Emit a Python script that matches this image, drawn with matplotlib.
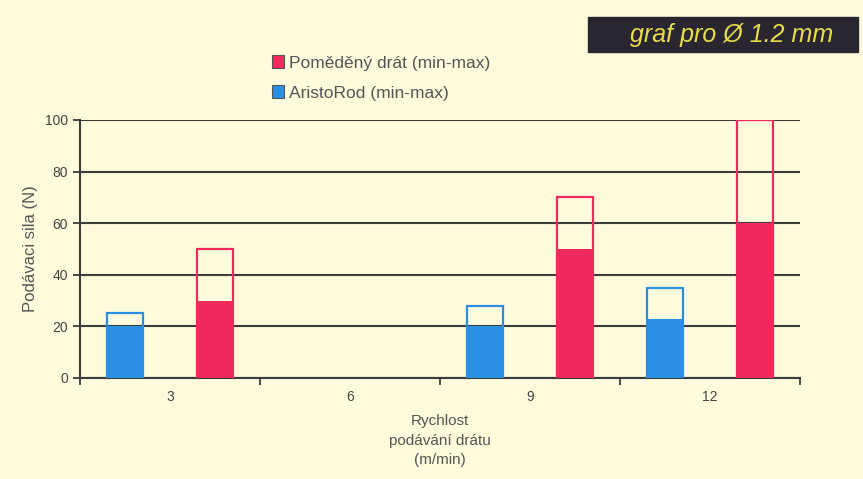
import numpy as np
import matplotlib.pyplot as plt
from matplotlib.patches import Rectangle

# rychlost podavani dratu (m/min)
speeds = ['3', '6', '9', '12']
# min / max podavaci sila (N), NaN = bez mereni
aristo_min = [20, np.nan, 20, 23]
aristo_max = [25, np.nan, 28, 35]
copper_min = [30, np.nan, 50, 60]
copper_max = [50, np.nan, 70, 100]

plt.rcParams['font.family'] = ['Liberation Sans', 'DejaVu Sans']

bg = '#fdfbdc'
red = '#f02a5c'
blue = '#2a8ee2'
grid_col = '#3c3c3c'

fig = plt.figure(figsize=(8.63, 4.79), dpi=100, facecolor=bg)
ax = fig.add_axes([0.0927, 0.2109, 0.8343, 0.5386], facecolor=bg)

x = np.arange(len(speeds))
w = 0.2
ok = ~np.isnan(np.array(aristo_min))

def draw(xpos, vmin, vmax, col):
    vmin = np.array(vmin)[ok]
    vmax = np.array(vmax)[ok]
    ax.bar(xpos[ok], vmin, width=w, color=col, zorder=3)
    ax.bar(xpos[ok], vmax, width=w, facecolor='none', edgecolor=col,
           linewidth=1.6, zorder=3)

draw(x - 0.25, aristo_min, aristo_max, blue)
draw(x + 0.25, copper_min, copper_max, red)

ax.set_xlim(-0.5, len(speeds) - 0.5)
ax.set_ylim(0, 100)
ax.set_yticks(range(0, 101, 20))
ax.yaxis.grid(True, color=grid_col, linewidth=1.5, zorder=1)
ax.set_axisbelow(True)

ax.set_xticks(x)
ax.set_xticklabels(speeds, fontsize=10, color='#444444')
ax.set_xticks(np.arange(-0.5, len(speeds), 1), minor=True)
ax.tick_params(axis='x', which='major', length=0, pad=9)
ax.tick_params(axis='x', which='minor', length=5, width=1.3, color=grid_col, direction='out')
ax.tick_params(axis='y', length=5, width=1.3, color=grid_col, labelsize=10, labelcolor='#444444')

for s in ['top', 'right']:
    ax.spines[s].set_visible(False)
for s in ['left', 'bottom']:
    ax.spines[s].set_color(grid_col)
    ax.spines[s].set_linewidth(1.5)

ax.set_ylabel('Podávaci sila (N)', fontsize=12, color='#555555', labelpad=5)
ax.set_xlabel('Rychlost\npodávání drátu\n(m/min)', fontsize=11, color='#555555',
              linespacing=1.5, labelpad=7)

# legenda
ax.bar([0], [0], color=red, label='Poměděný drát (min-max)')
ax.bar([0], [0], color=blue, label='AristoRod (min-max)')
leg = fig.legend(loc='upper left', bbox_to_anchor=(0.301, 0.91), frameon=False,
                 fontsize=12.5, handlelength=0.72, handleheight=0.72, handletextpad=0.25,
                 labelspacing=0.85, labelcolor='#555555', borderpad=0.2)
for h in leg.legend_handles:
    h.set_edgecolor('#555555')
    h.set_linewidth(0.8)

# stitek vpravo nahore
fig.patches.append(Rectangle((0.681, 0.8914), 0.313, 0.0731, transform=fig.transFigure,
                             facecolor='#2a2630', edgecolor='#2a2630'))
fig.text(0.848, 0.926, 'graf pro Ø 1.2 mm', fontsize=18, style='italic', color='#e8dc4c',
         ha='center', va='center')

plt.savefig('out.png', dpi=100, facecolor=bg)
